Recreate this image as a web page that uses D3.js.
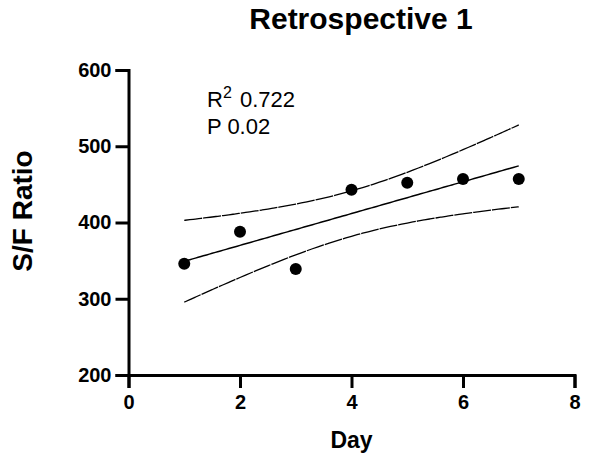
<!DOCTYPE html>
<html>
<head>
<meta charset="utf-8">
<script src="https://cdn.jsdelivr.net/npm/d3@7"></script>
<style>
  body { margin: 0; background: #fff; }
  svg { font-family: "Liberation Sans", Arial, sans-serif; }
</style>
</head>
<body>
<div id="chart"></div>
<script>
const days = [1, 2, 3, 4, 5, 6, 7];
const sfRatio = [346, 388, 339, 443, 452, 457, 457];
const xTicks = [0, 2, 4, 6, 8];
const yTicks = [200, 300, 400, 500, 600];
const tCrit = 2.571; // t(0.975, df = 5)

const W = 597, H = 459;
const margin = { top: 70, right: 22.5, bottom: 84, left: 128.5 };
const width = W - margin.left - margin.right;
const height = H - margin.top - margin.bottom;

const svg = d3.select('#chart').append('svg')
  .attr('width', W)
  .attr('height', H);

const g = svg.append('g')
  .attr('transform', 'translate(' + margin.left + ',' + margin.top + ')');

const x = d3.scaleLinear().domain([0, 8]).range([0, width]);
const y = d3.scaleLinear().domain([200, 600]).range([height, 0]);

// linear fit + 95% confidence band
const n = days.length;
const mx = d3.mean(days), my = d3.mean(sfRatio);
const sxx = d3.sum(days, d => (d - mx) ** 2);
const sxy = d3.sum(days, (d, i) => (d - mx) * (sfRatio[i] - my));
const slope = sxy / sxx;
const icpt = my - slope * mx;
const sres = Math.sqrt(d3.sum(days, (d, i) => (sfRatio[i] - (icpt + slope * d)) ** 2) / (n - 2));
const xs = d3.range(1, 7.001, 0.1);
const fit = xs.map(v => {
  const yh = icpt + slope * v;
  const hw = tCrit * sres * Math.sqrt(1 / n + (v - mx) ** 2 / sxx);
  return { x: v, y: yh, lo: yh - hw, hi: yh + hw };
});

const line = key => d3.line().x(d => x(d.x)).y(d => y(d[key])).curve(d3.curveBasis);

g.append('path').datum(fit).attr('d', line('y'))
  .attr('fill', 'none').attr('stroke', '#000').attr('stroke-width', 1.5);
['hi', 'lo'].forEach(k => {
  g.append('path').datum(fit).attr('d', line(k))
    .attr('fill', 'none').attr('stroke', '#000').attr('stroke-width', 1.3)
    .attr('stroke-dasharray', '18,1');
});

g.selectAll('.dot')
  .data(days)
  .enter()
  .append('circle')
    .attr('cx', d => x(d))
    .attr('cy', (d, i) => y(sfRatio[i]))
    .attr('r', 6)
    .attr('fill', '#000');

// axes
const xAxis = g.append('g')
  .attr('transform', 'translate(0,' + height + ')')
  .call(d3.axisBottom(x).tickValues(xTicks).tickSize(13).tickPadding(7).tickFormat(d3.format('d')));
const yAxis = g.append('g')
  .call(d3.axisLeft(y).tickValues(yTicks).tickSize(13).tickPadding(4).tickFormat(d3.format('d')));

[xAxis, yAxis].forEach(a => {
  a.select('.domain').attr('stroke-width', 3).attr('stroke', '#000');
  a.selectAll('.tick line').attr('stroke-width', 3).attr('stroke', '#000');
  a.selectAll('.tick text')
    .attr('fill', '#000')
    .style('font-size', '20px')
    .style('font-weight', 'bold')
    .style('font-family', '"Liberation Sans", Arial, sans-serif');
});

// titles
svg.append('text')
  .attr('x', 361).attr('y', 29)
  .attr('text-anchor', 'middle')
  .style('font-size', '30px').style('font-weight', 'bold')
  .text('Retrospective 1');

svg.append('text')
  .attr('x', margin.left + width / 2).attr('y', 448)
  .attr('text-anchor', 'middle')
  .style('font-size', '23px').style('font-weight', 'bold')
  .text('Day');

svg.append('text')
  .attr('transform', 'translate(32,211) rotate(-90)')
  .attr('text-anchor', 'middle')
  .style('font-size', '28px').style('font-weight', 'bold')
  .text('S/F Ratio');

// annotation
const r2 = svg.append('text').attr('x', 207).attr('y', 107).style('font-size', '22px');
r2.append('tspan').text('R');
r2.append('tspan').attr('dy', -9).style('font-size', '16px').text('2');
r2.append('tspan').attr('dy', 9).attr('dx', 2).text(' 0.722');
svg.append('text').attr('x', 207).attr('y', 134).style('font-size', '22px').text('P 0.02');
</script>
</body>
</html>
